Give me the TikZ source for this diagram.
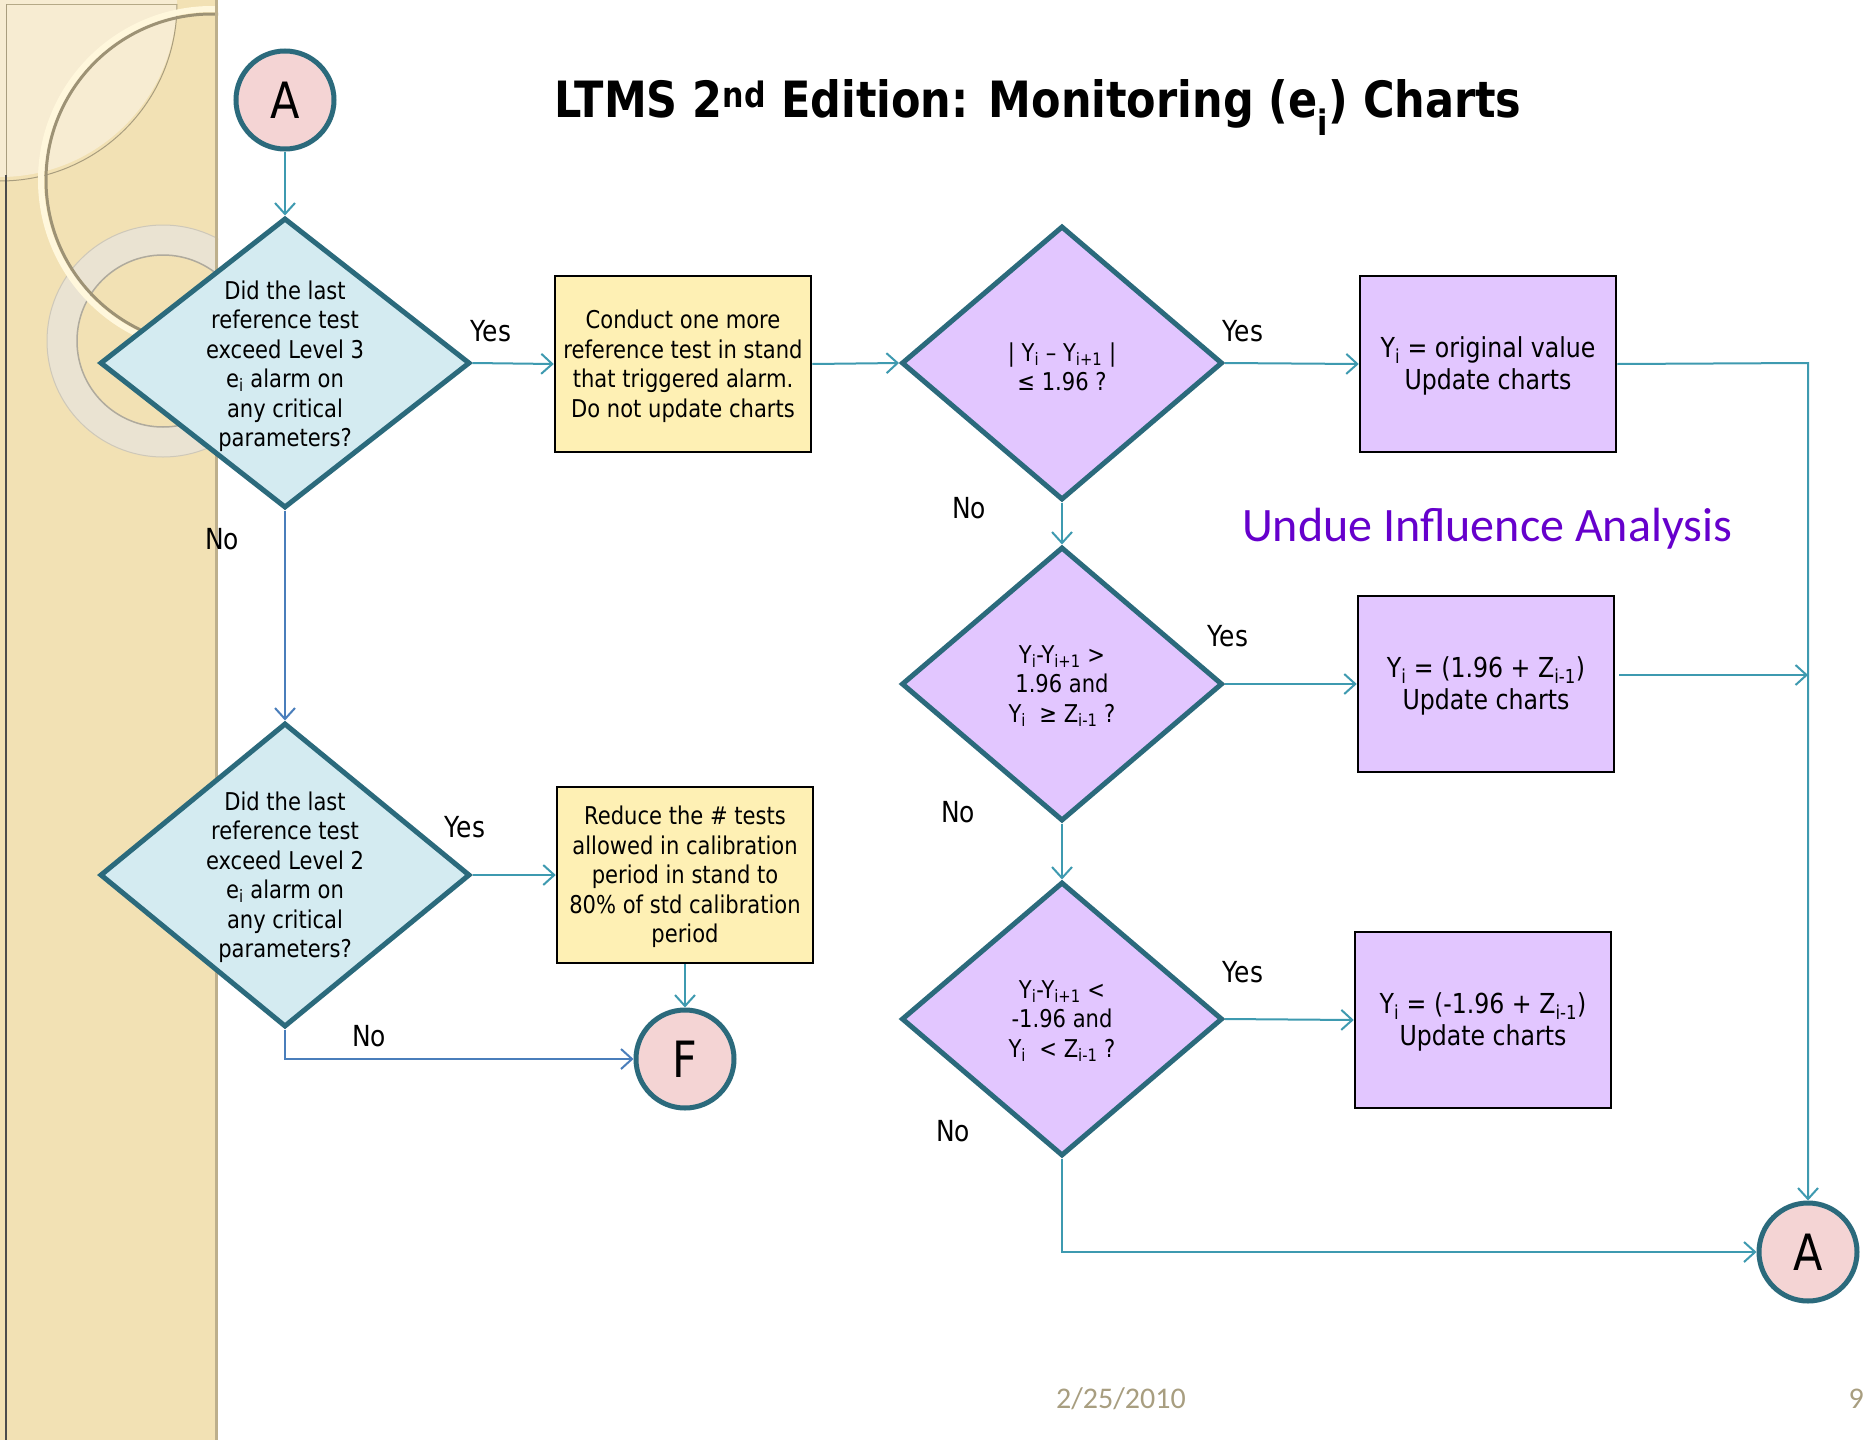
\documentclass[tikz,border=0pt]{standalone}
\usepackage{fontspec}
\setmainfont{DejaVu Sans}[FakeStretch=0.86]
\newfontfamily\calib{Carlito}
\usetikzlibrary{shapes.geometric,arrows.meta}
\definecolor{edgeteal}{HTML}{2B6A7C}
\definecolor{linkteal}{HTML}{3E9AB0}
\definecolor{linkblue}{HTML}{4A7EBB}
\definecolor{bluefill}{HTML}{D4EBF1}
\definecolor{purfill}{HTML}{E2C6FF}
\definecolor{yelfill}{HTML}{FEF0B4}
\definecolor{pinkfill}{HTML}{F4D4D4}
\definecolor{undue}{HTML}{6600CC}
\definecolor{datecol}{HTML}{A89E80}
\definecolor{striptan}{HTML}{F2E1B4}
\definecolor{striplight}{HTML}{F7ECD2}
\definecolor{ringcol}{HTML}{EAE3D2}
\definecolor{creamarc}{HTML}{FFF7DC}
\newcommand\lsub[1]{\textsubscript{#1}}
\begin{document}
\begin{tikzpicture}[x=1pt,y=-1pt,
  txt/.style={font=\fontsize{24.5}{29.5}\selectfont, align=center, inner sep=0pt},
  bigtxt/.style={font=\fontsize{27.5}{32}\selectfont, align=center, inner sep=0pt},
  dia/.style={diamond, draw=edgeteal, line width=5pt, inner sep=0pt, minimum width=#1},
  bluedia/.style={fill=bluefill},
  purdia/.style={fill=purfill},
  procbox/.style={draw=black, line width=2.5pt, minimum width=256pt, minimum height=176pt, inner sep=0pt},
  conn/.style={draw=edgeteal, circle, line width=5pt, fill=pinkfill, minimum size=98pt, inner sep=0pt, font=\fontsize{50}{50}\selectfont},
  lab/.style={font=\fontsize{29}{29}\selectfont, inner sep=0pt},
  link/.style={draw=linkteal, line width=2pt, -{Straight Barb[length=11pt,width=20pt,line width=2pt]}},
  bluelink/.style={link, draw=linkblue},
  plainlink/.style={draw=linkteal, line width=2pt}
]
\useasboundingbox (0,0) rectangle (1864,1440);
\fill[white] (0,0) rectangle (1864,1440);
% ---- decorative left strip ----
\begin{scope}
  \clip (0,0) rectangle (218,1440);
  \fill[striptan] (0,0) rectangle (218,1440);
  \fill[striplight] (0,0) circle (177);
  \draw[color=black!30!striptan, line width=1pt] (177,4) arc[start angle=0, end angle=90, radius=177] ;
  \fill[ringcol, even odd rule] (163,341) circle (116) (163,341) circle (86);
  \draw[color=black!25!ringcol, line width=1.5pt] (163,341) circle (86);
  \draw[color=black!12!ringcol, line width=1pt] (163,341) circle (116);
  \draw[color=black!35!striptan, line width=3pt] (212,180) circle (166);
  \draw[creamarc, line width=6pt] (212,180) circle (171);
  \draw[color=black!22!striptan, line width=3pt] (216,0) -- (216,1440);
  \draw[color=black!25!striptan, line width=1pt] (6,4) -- (177,4);
  \draw[color=black!70, line width=1.5pt] (6,175) -- (6,1440);
  \draw[color=black!30!striptan, line width=1pt] (6,4) -- (6,175);
\end{scope}
% ---- title ----
\node[font=\bfseries\fontsize{50}{50}\selectfont, inner sep=0pt, anchor=base] (title) at (1038,117)
  {LTMS 2\textsuperscript{nd} Edition: Monitoring (e\lsub{i}) Charts};
\node[font=\calib\fontsize{48}{48}\selectfont, text=undue, inner sep=0pt, anchor=base] (undue) at (1487,541) {Undue Influence Analysis};
\node[font=\calib\fontsize{30}{30}\selectfont, text=datecol, inner sep=0pt] (date) at (1121,1399) {2/25/2010};
\node[font=\calib\fontsize{30}{30}\selectfont, text=datecol, inner sep=0pt, anchor=east] (pgno) at (1864,1399) {9};
% ---- connectors circles ----
\node[conn] (a1) at (285,100) {A};
\node[conn] (a2) at (1808,1252) {A};
\node[conn] (f) at (685,1059) {F};
% ---- diamonds ----
\node[dia=370pt, minimum height=290pt, bluedia] (d1) at (285,363) {};
\node[txt] (d1t) at (285,366) {Did the last\\reference test\\exceed Level 3\\e\lsub{i} alarm on\\any critical\\parameters?};
\node[dia=370pt, minimum height=304pt, bluedia] (d2) at (285,875) {};
\node[txt] (d2t) at (285,877) {Did the last\\reference test\\exceed Level 2\\e\lsub{i} alarm on\\any critical\\parameters?};
\node[dia=321pt, minimum height=274pt, purdia] (d3) at (1062,363) {};
\node[txt] (d3t) at (1062,367) {| Y\lsub{i} – Y\lsub{i+1} |\\≤ 1.96 ?};
\node[dia=321pt, minimum height=274pt, purdia] (d4) at (1062,684) {};
\node[txt] (d4t) at (1062,686) {Y\lsub{i}-Y\lsub{i+1} >\\1.96 and\\Y\lsub{i}\ \ ≥ Z\lsub{i-1} ?};
\node[dia=321pt, minimum height=274pt, purdia] (d5) at (1062,1019) {};
\node[txt] (d5t) at (1062,1021) {Y\lsub{i}-Y\lsub{i+1} <\\-1.96 and\\Y\lsub{i}\ \ < Z\lsub{i-1} ?};
% ---- boxes ----
\node[procbox, fill=yelfill] (c) at (683,364) {};
\node[txt] (ct) at (683,366) {Conduct one more\\reference test in stand\\that triggered alarm.\\Do not update charts};
\node[procbox, fill=yelfill] (r) at (685,875) {};
\node[txt] (rt) at (685,877) {Reduce the \# tests\\allowed in calibration\\period in stand to\\80\% of std calibration\\period};
\node[procbox, fill=purfill] (u1) at (1488,364) {};
\node[bigtxt] (u1t) at (1488,366) {Y\lsub{i} = original value\\Update charts};
\node[procbox, fill=purfill] (u2) at (1486,684) {};
\node[bigtxt] (u2t) at (1486,686) {Y\lsub{i} = (1.96 + Z\lsub{i-1})\\Update charts};
\node[procbox, fill=purfill] (u3) at (1483,1020) {};
\node[bigtxt] (u3t) at (1483,1022) {Y\lsub{i} = (-1.96 + Z\lsub{i-1})\\Update charts};
% ---- helper coordinates ----
\coordinate (vtop) at (1808,363);
\coordinate (u2out) at (1619,675);
\coordinate (u2in) at (1808,675);
\coordinate (d5corner) at (1062,1252);
\coordinate (d2corner) at (285,1059);
% ---- links ----
\draw[link] (a1.south) -- (d1.north);
\draw[link] (d1.east) -- (c.west);
\draw[link] (c.east) -- (d3.west);
\draw[link] (d3.east) -- (u1.west);
\draw[link] (d3.south) -- (d4.north);
\draw[link] (d4.east) -- (u2.west);
\draw[link] (d4.south) -- (d5.north);
\draw[link] (d5.east) -- (u3.west);
\draw[link] (u1.east) -- (vtop) -- (a2.north);
\draw[link] (u2out) -- (u2in);
\draw[link] (d5.south) -- (d5corner) -- (a2.west);
\draw[bluelink] (d1.south) -- (d2.north);
\draw[link] (d2.east) -- (r.west);
\draw[link] (r.south) -- (f.north);
\draw[bluelink] (d2.south) -- (d2corner) -- (f.west);
% ---- labels ----
\node[lab] (y1) at (491,331) {Yes};
\node[lab] (n1) at (222,539) {No};
\node[lab] (y3) at (1243,331) {Yes};
\node[lab] (n3) at (969,508) {No};
\node[lab] (y4) at (1228,636) {Yes};
\node[lab] (n4) at (958,812) {No};
\node[lab] (y5) at (1243,972) {Yes};
\node[lab] (n5) at (953,1131) {No};
\node[lab] (y2) at (465,827) {Yes};
\node[lab] (n2) at (369,1036) {No};
\end{tikzpicture}
\end{document}
